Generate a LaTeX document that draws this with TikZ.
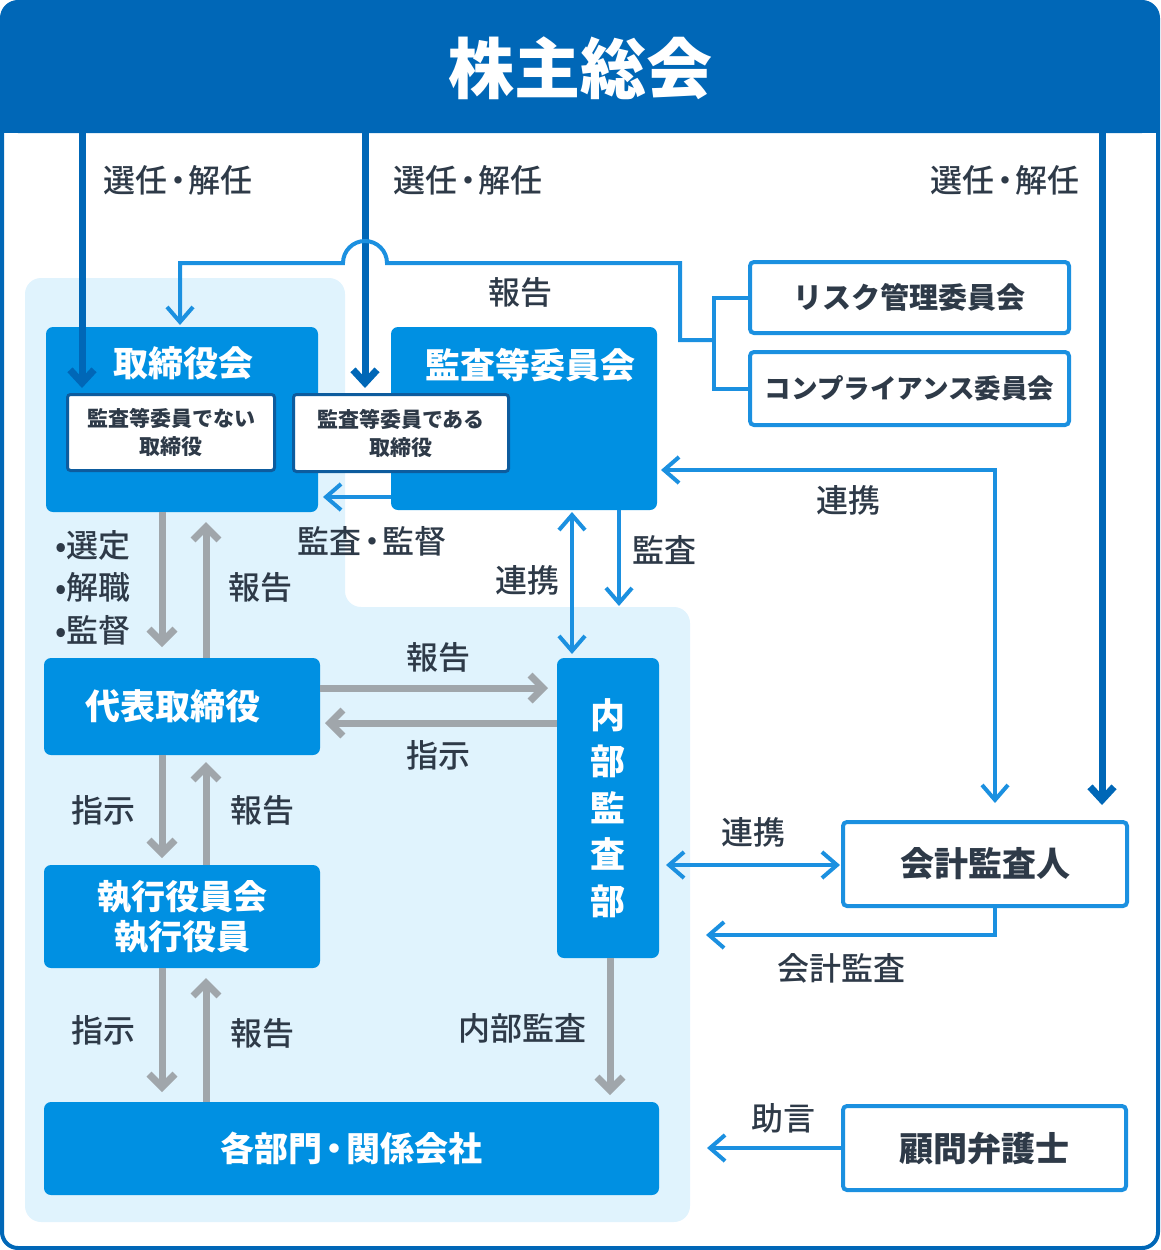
\documentclass[tikz,border=0pt]{standalone}
\usepackage{fontspec}
\setmainfont{Noto Sans CJK JP}
\newfontfamily\medfont{Noto Sans CJK JP Medium}
\usetikzlibrary{arrows.meta,calc}
\definecolor{hdr}{HTML}{0067B7}
\definecolor{boxb}{HTML}{0090E2}
\definecolor{lineb}{HTML}{1B90E0}
\definecolor{bgl}{HTML}{E0F3FD}
\definecolor{txt}{HTML}{2E3A48}
\definecolor{grayl}{HTML}{A0A6AB}
\definecolor{innerb}{HTML}{0D5C9E}
\newcommand\myfs[2]{\fontsize{#1pt}{#2pt}\selectfont}
\newcommand\nd{\kern-0.16em・\kern-0.16em}
\tikzset{
  bluebox/.style={fill=boxb, rounded corners=7pt, inner sep=0pt, text=white, font=\myfs{35}{40}\bfseries, align=center},
  whitebox/.style={draw=lineb, line width=4pt, fill=white, rounded corners=4pt, inner sep=0pt, text=txt, font=\myfs{34}{40}\bfseries},
  innerbox/.style={draw=innerb, line width=3pt, fill=white, rounded corners=3pt, inner sep=0pt, text=txt, font=\myfs{21}{28}\bfseries, align=center},
  lbl/.style={text=txt, font=\myfs{32}{36}\medfont, inner sep=0pt},
  gtip/.tip={Straight Barb[length=13pt,width=26pt]},
  btip/.tip={Straight Barb[length=15pt,width=26pt]},
  dtip/.tip={Straight Barb[length=13pt,width=24pt]},
  garrow/.style={draw=grayl, line width=7pt, -gtip},
  barrow/.style={draw=lineb, line width=4pt, -btip},
  bline/.style={draw=lineb, line width=4pt},
  darrow/.style={draw=hdr, line width=7pt, -dtip},
}
\begin{document}
\begin{tikzpicture}[x=1pt,y=-1pt]
\useasboundingbox (0,0) rectangle (1160,1250);
% light background
\fill[bgl, rounded corners=16pt] (25,278) -- (345,278) -- (345,607) -- (690,607) -- (690,1222) -- (25,1222) -- cycle;
% header
\node[fill=hdr, rounded corners=16pt, minimum width=1156pt, minimum height=131pt, inner sep=0pt] (gm) at (580,67.5) {};
\fill[hdr] (2,80) rectangle (1158,133);
\node[text=white, font=\myfs{66}{70}\bfseries, inner sep=0pt] (gmT) at (580,68) {株主総会};
\draw[hdr, line width=4pt, rounded corners=16pt] (2,2) rectangle (1158,1248);

% boxes
\node[bluebox, minimum width=272pt, minimum height=185pt] (board) at (182,419.5) {};
\node[bluebox, minimum width=266pt, minimum height=183pt] (acom) at (524,418.5) {};
\node[text=white, font=\myfs{35}{40}\bfseries, inner sep=0pt] (boardT) at (183,363) {取締役会};
\node[text=white, font=\myfs{35}{40}\bfseries, inner sep=0pt] (acomT) at (530,365) {監査等委員会};
\node[innerbox, minimum width=207pt, minimum height=76pt] (inner1) at (171,432.5) {監査等委員でない\\取締役};
\node[innerbox, minimum width=215pt, minimum height=77pt] (inner2) at (401,433) {監査等委員である\\取締役};

\node[whitebox, minimum width=319pt, minimum height=71pt, font=\myfs{29}{34}\bfseries] (risk) at (909.5,297.5) {リスク管理委員会};
\node[whitebox, minimum width=319pt, minimum height=73pt, font=\myfs{26.5}{34}\bfseries] (comp) at (909.5,388.5) {コンプライアンス委員会};

\node[bluebox, minimum width=276pt, minimum height=97pt] (rep) at (182,706.5) {代表取締役\hspace{18pt}};
\node[bluebox, minimum width=276pt, minimum height=103pt, font=\myfs{34}{40}\bfseries] (exec) at (182,916.5) {執行役員会\\執行役員};
\node[bluebox, minimum width=102pt, minimum height=300pt, font=\myfs{35}{46.5}\bfseries] (iad) at (608,808) {内\\部\\監\\査\\部};
\node[bluebox, minimum width=615pt, minimum height=93pt, font=\myfs{34}{40}\bfseries] (dept) at (351.5,1148.5) {各部門\nd 関係会社};

\node[whitebox, minimum width=284pt, minimum height=84pt] (acct) at (985,864) {会計監査人};
\node[whitebox, minimum width=283pt, minimum height=84pt] (lawyer) at (984.5,1148) {顧問弁護士\hspace{14pt}};

% dark blue arrows from the general meeting
\coordinate (cA) at (82,388);
\coordinate (cB) at (365,388);
\coordinate (cC) at (1102,805);
\draw[darrow] (gm.south -| cA) -- (cA);
\draw[darrow] (gm.south -| cB) -- (cB);
\draw[darrow] (gm.south -| cC) -- (cC);

% committees bracket and report line
\coordinate (brk) at (714,340);
\coordinate (rpt) at (180,325);
\draw[bline] (risk.west) -- (risk.west -| brk) -- (comp.west -| brk) -- (comp.west);
\draw[barrow] (brk) -- (680,340) -- (680,263) -- (387,263) arc(0:-180:22) -- (rpt |- 0,263) -- (rpt);

% audit & supervision
\coordinate (asv) at (323,497);
\draw[barrow] (acom.west |- asv) -- (asv);
% cooperation acom <-> iad
\coordinate (c1a) at (572,512);
\coordinate (c1b) at (572,654);
\draw[barrow, btip-btip] (c1a) -- (c1b);
% audit acom -> iad
\coordinate (au1) at (619,510);
\coordinate (au2) at (619,606);
\draw[barrow] (au1) -- (au2);
% cooperation acom <-> accounting auditor
\coordinate (c2a) at (661,470);
\coordinate (c2b) at (995,803);
\draw[barrow, btip-btip] (c2a) -- (c2a -| c2b) -- (c2b);
% cooperation iad <-> acct
\coordinate (c3a) at (666,865);
\coordinate (c3b) at (840,865);
\draw[barrow, btip-btip] (c3a) -- (c3b);
% accounting audit
\coordinate (aa) at (706,935);
\draw[barrow] (acct.south -| c2b) -- (c2b |- aa) -- (aa);
% advice
\coordinate (adv) at (707,1148);
\draw[barrow] (lawyer.west |- adv) -- (adv);

% gray arrows
\coordinate (gd) at (162,0);
\coordinate (gu) at (206,0);
\draw[garrow] (board.south -| gd) -- (162,647);
\draw[garrow] (rep.north -| gu) -- (206,522);
\draw[garrow] (rep.east |- 0,688) -- (548,688);
\draw[garrow] (iad.west |- 0,723) -- (325,723);
\draw[garrow] (rep.south -| gd) -- (162,858);
\draw[garrow] (exec.north -| gu) -- (206,762);
\draw[garrow] (exec.south -| gd) -- (162,1092);
\draw[garrow] (dept.north -| gu) -- (206,978);
\draw[garrow] (iad.south -| 610,0) -- (610,1095);

% labels
\node[lbl] (l1) at (178,180) {選任\nd 解任};
\node[lbl] (l2) at (468,180) {選任\nd 解任};
\node[lbl] (l3) at (1005,180) {選任\nd 解任};
\node[lbl] (l4) at (520,292) {報告};
\node[lbl] (l5) at (372,541) {監査\nd 監督};
\node[lbl] (l6) at (527,580) {連携};
\node[lbl] (l7) at (664,550) {監査};
\node[lbl] (l8) at (848,500) {連携};
\node[lbl, anchor=west] (l9) at (55,545) {•選定};
\node[lbl, anchor=west] (l10) at (55,587) {•解職};
\node[lbl, anchor=west] (l11) at (55,630) {•監督};
\node[lbl] (l12) at (260,587) {報告};
\node[lbl] (l13) at (438,657) {報告};
\node[lbl] (l14) at (438,755) {指示};
\node[lbl] (l15) at (103,810) {指示};
\node[lbl] (l16) at (262,810) {報告};
\node[lbl] (l17) at (103,1030) {指示};
\node[lbl] (l18) at (262,1033) {報告};
\node[lbl] (l19) at (522,1028) {内部監査};
\node[lbl] (l20) at (753,832) {連携};
\node[lbl] (l21) at (841,968) {会計監査};
\node[lbl] (l22) at (783,1118) {助言};
\end{tikzpicture}
\end{document}
